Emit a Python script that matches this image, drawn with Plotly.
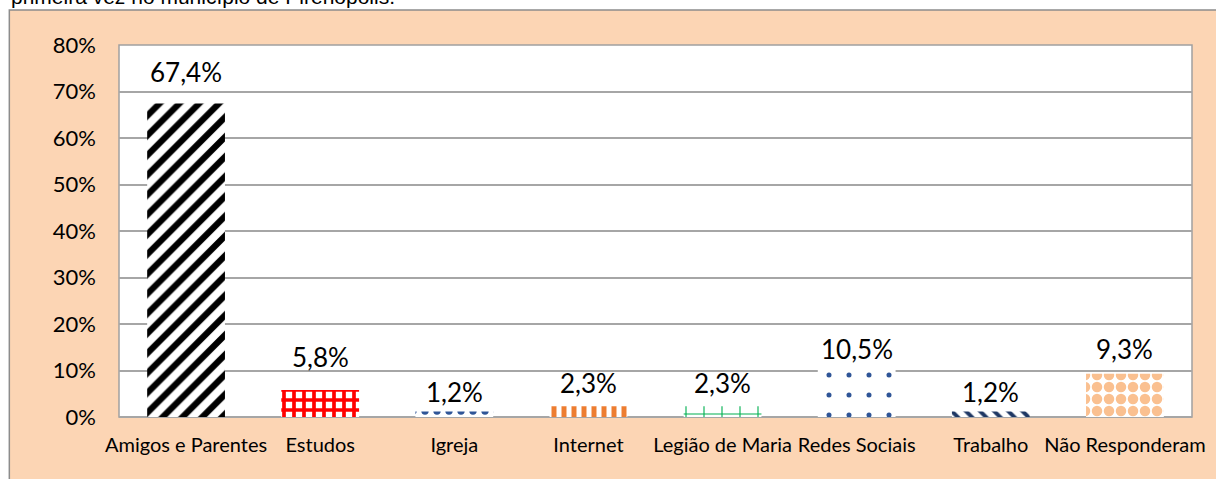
import plotly.graph_objects as go

categories = ["Amigos e Parentes", "Estudos", "Igreja", "Internet", "Legião de Maria",
              "Redes Sociais", "Trabalho", "Não Responderam"]
values = [0.674, 0.058, 0.012, 0.023, 0.023, 0.105, 0.012, 0.093]
labels = ["67,4%", "5,8%", "1,2%", "2,3%", "2,3%", "10,5%", "1,2%", "9,3%"]
y_ticks = [0, 0.1, 0.2, 0.3, 0.4, 0.5, 0.6, 0.7, 0.8]
y_ticklabels = ["0%", "10%", "20%", "30%", "40%", "50%", "60%", "70%", "80%"]

# styles
label_shift = [32, 33, 19, 23, 23, 19, 19, 25]
pattern_shapes = ["/", "+", ".", "|", "+", ".", "\\", "."]
pattern_fg = ["#000000", "#FF0000", "#2F5597", "#ED7D31", "#00B050", "#2F5597", "#1F3864", "#FAC090"]
pattern_size = [14, 10, 12, 10, 18, 20, 10, 12]
pattern_solidity = [0.45, 0.6, 0.3, 0.5, 0.12, 0.05, 0.4, 0.6]

W, H = 1216, 479
L, R, T, B = 119, 11, 45, 62
pw, ph = W - L - R, H - T - B

def px_x(p):
    return (p - L) / pw

def px_y(p):
    return (H - B - p) / ph

fig = go.Figure()
fig.add_trace(go.Bar(
    x=categories, y=values,
    marker=dict(
        color="#FFFFFF",
        line=dict(width=0),
        pattern=dict(shape=pattern_shapes, fgcolor=pattern_fg, fgopacity=1,
                     size=pattern_size, solidity=pattern_solidity, fillmode="overlay"),
    ),
    hoverinfo="skip",
))

for c, v, t, s in zip(categories, values, labels, label_shift):
    fig.add_annotation(x=c, y=v, text=t, showarrow=False, yanchor="middle",
                       yshift=s, font=dict(family="Lato", size=26, color="#000000"))

# outer peach box
fig.add_shape(type="rect", xref="paper", yref="paper", layer="below",
              x0=px_x(8), x1=px_x(W + 20), y0=px_y(H + 20), y1=px_y(10),
              fillcolor="#FCD5B4", line=dict(color="#8C8C8C", width=1.5))
# white plot area with border
fig.add_shape(type="rect", xref="paper", yref="paper", layer="below",
              x0=0, x1=1, y0=0, y1=1,
              fillcolor="#FFFFFF", line=dict(color="#A0A0A0", width=1.5))

fig.add_annotation(xref="paper", yref="paper", x=px_x(8), y=px_y(-3),
                   xanchor="left", yanchor="middle", showarrow=False,
                   text="primeira vez no município de Pirenópolis.",
                   font=dict(family="Liberation Sans", size=21, color="#000000"))

fig.update_layout(
    width=W, height=H,
    margin=dict(l=L, r=R, t=T, b=B),
    paper_bgcolor="#FFFFFF", plot_bgcolor="rgba(0,0,0,0)",
    bargap=0.42, showlegend=False,
    font=dict(family="Lato", color="#000000"),
)
fig.update_xaxes(showgrid=False, showline=False, ticks="", tickfont=dict(size=20),
                 ticklabelstandoff=14)
fig.update_yaxes(range=[0, 0.8], tickvals=y_ticks, ticktext=y_ticklabels,
                 showgrid=True, gridcolor="#A6A6A6", gridwidth=1.5,
                 zeroline=True, zerolinecolor="#A6A6A6", zerolinewidth=1.5,
                 showline=False, ticks="", tickfont=dict(size=22),
                 ticklabelstandoff=22)

fig.write_html("out.html", config={"displayModeBar": False},
               post_script="document.body.style.margin='0';document.body.style.overflow='hidden';")
